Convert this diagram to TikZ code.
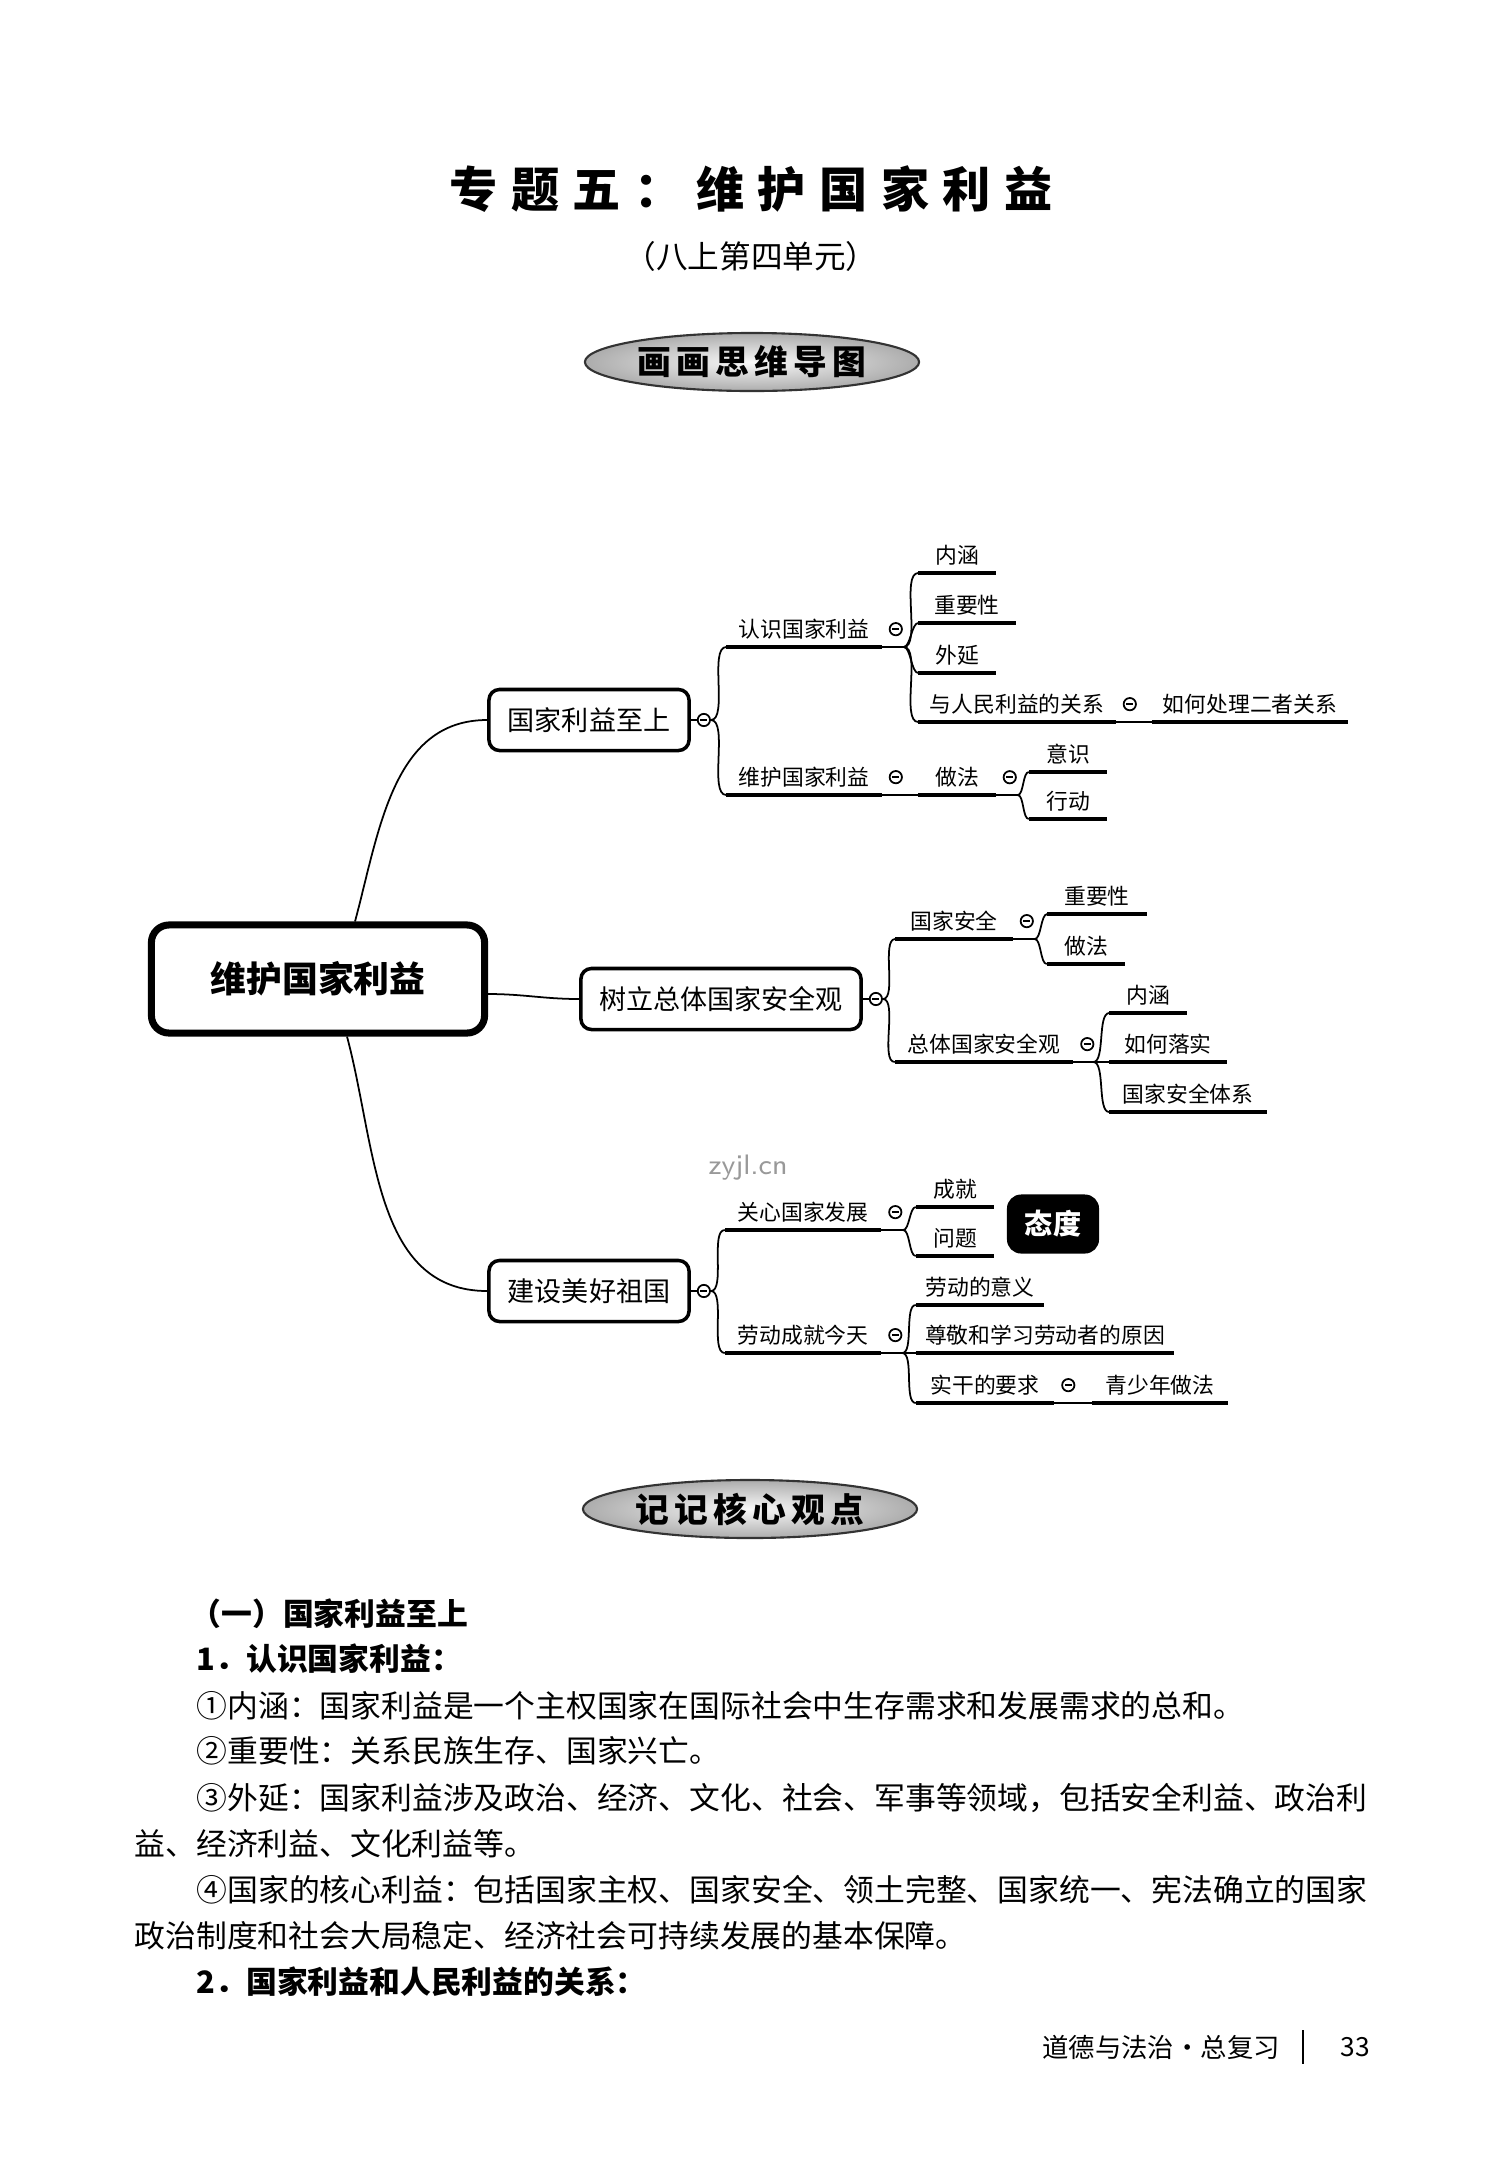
\documentclass[tikz,border=0pt]{standalone}
\usepackage{fontspec}
\setmainfont{Noto Sans CJK SC}
\newfontfamily\titlefont[LetterSpace=28]{Noto Sans CJK SC}
\newfontfamily\bannerfont[LetterSpace=16]{Noto Sans CJK SC}
\usetikzlibrary{shapes.geometric, positioning, calc}

\begin{document}
\begin{tikzpicture}[x=0.01cm, y=-0.01cm,
    root/.style={rectangle, draw, line width=2pt, rounded corners=5pt, minimum width=3.33cm, minimum height=1.08cm, font=\fontsize{10.2}{12}\selectfont\bfseries},
    topic/.style={rectangle, draw, line width=1pt, rounded corners=3pt, minimum height=.61cm, font=\fontsize{7.7}{9}\selectfont},
    leaf/.style={anchor=south, inner xsep=0pt, inner ysep=2pt, font=\fontsize{6.2}{7}\selectfont},
    uline/.style={line width=1.2pt},
    conn/.style={line width=.5pt},
    branch/.style={conn, out=0, in=180, looseness=.6},
    fold/.style={circle, draw, line width=.5pt, inner sep=0pt, minimum size=3.5pt,
        path picture={\draw[line width=.5pt] ([xshift=-1pt]path picture bounding box.center) -- ([xshift=1pt]path picture bounding box.center);}},
    banner/.style={ellipse, draw=black!80, line width=.6pt, inner color=gray!5, outer color=gray!65, inner sep=0pt, minimum width=3.34cm, minimum height=.58cm, font=\bannerfont\fontsize{9.6}{12}\selectfont\bfseries},
    body/.style={anchor=west, inner sep=0pt, font=\fontsize{8.76}{10}\selectfont},
    bodyhead/.style={body, font=\fontsize{8.76}{10}\selectfont\bfseries}
]
\fill[white] (0,0) rectangle (1500,2160);
\useasboundingbox (0,0) rectangle (1500,2160);

% Title
\node[font=\titlefont\fontsize{13.7}{16}\selectfont\bfseries] (title) at (751,189) {专题五：维护国家利益};
\node[font=\fontsize{9}{11}\selectfont] (subtitle) at (751,256) {（八上第四单元）};
\node[banner] (map) at (752,362) {画画思维导图};

% Main topics
\node[root] (root) at (318,979) {维护国家利益};
\node[topic, minimum width=2cm] (gjly) at (589,720) {国家利益至上};
\node[topic, minimum width=2.8cm] (aqg) at (721,999) {树立总体国家安全观};
\node[topic, minimum width=2cm] (zg) at (589,1291) {建设美好祖国};
\foreach \t in {gjly,aqg,zg} \node[fold, right=.06cm of \t] (\t-f) {};

% Branch 1
\node[leaf, minimum width=1.54cm] (rs) at (804,647) {认识国家利益};
\node[leaf, minimum width=1.54cm] (wh) at (804,795) {维护国家利益};
\node[leaf, minimum width=.76cm] (nh1) at (957,573) {内涵};
\node[leaf, minimum width=.96cm] (zy1) at (967,623) {重要性};
\node[leaf, minimum width=.76cm] (wy) at (957,673) {外延};
\node[leaf, minimum width=1.96cm] (gx) at (1017,722) {与人民利益的关系};
\node[leaf, minimum width=1.95cm] (cl) at (1250,722) {如何处理二者关系};
\node[leaf, minimum width=.76cm] (zf1) at (957,795) {做法};
\node[leaf, minimum width=.77cm] (ys) at (1068,772) {意识};
\node[leaf, minimum width=.77cm] (xd) at (1068,819) {行动};

% Branch 2
\node[leaf, minimum width=1.16cm] (aq) at (954,939) {国家安全};
\node[leaf, minimum width=1.77cm] (zt) at (984,1062) {总体国家安全观};
\node[leaf, minimum width=.98cm] (zy2) at (1097,914) {重要性};
\node[leaf, minimum width=.77cm] (zf2) at (1086,964) {做法};
\node[leaf, minimum width=.76cm] (nh2) at (1148,1013) {内涵};
\node[leaf, minimum width=1.16cm] (ls) at (1168,1062) {如何落实};
\node[leaf, minimum width=1.56cm] (tx) at (1188,1112) {国家安全体系};

% Branch 3
\node[leaf, minimum width=1.55cm] (gxfz) at (803,1230) {关心国家发展};
\node[leaf, minimum width=1.55cm] (ld) at (803,1353) {劳动成就今天};
\node[leaf, minimum width=.77cm] (cj) at (955,1207) {成就};
\node[leaf, minimum width=.77cm] (wt) at (955,1256) {问题};
\node[leaf, minimum width=1.27cm] (yy) at (980,1305) {劳动的意义};
\node[leaf, minimum width=2.57cm] (zj) at (1045,1353) {尊敬和学习劳动者的原因};
\node[leaf, minimum width=1.37cm] (sg) at (985,1403) {实干的要求};
\node[leaf, minimum width=1.35cm] (qs) at (1160,1403) {青少年做法};
\node[rectangle, fill=black, rounded corners=4pt, minimum width=.92cm, minimum height=.59cm, text=white, font=\fontsize{8}{9}\selectfont\bfseries] (td) at (1053,1224) {态度};
\node[text=black!40, font=\sffamily\fontsize{8}{9}\selectfont] (wm) at (748,1168) {zyjl.cn};

\foreach \n in {rs,gx,wh,zf1,aq,zt,gxfz,ld,sg} \node[fold, right=.07cm of \n] (\n-f) {};
\foreach \n in {rs,wh,nh1,zy1,wy,gx,cl,zf1,ys,xd,aq,zt,zy2,zf2,nh2,ls,tx,gxfz,ld,cj,wt,yy,zj,sg,qs}
    \draw[uline] (\n.south west) -- (\n.south east);

% Connectors
\draw[conn] ([xshift=.37cm]root.north) to[out=75,in=180] (gjly.west);
\draw[conn] ([yshift=-.15cm]root.east) to[out=0,in=180] (aqg.west);
\draw[conn] ([xshift=.29cm]root.south) to[out=-75,in=180] (zg.west);
\foreach \t in {gjly,aqg,zg} \draw[conn] (\t.east) -- (\t-f.west);
\foreach \k in {rs,wh} \draw[branch] (gjly-f.east) to (\k.south west);
\foreach \k in {aq,zt} \draw[branch] (aqg-f.east) to (\k.south west);
\foreach \k in {gxfz,ld} \draw[branch] (zg-f.east) to (\k.south west);

\draw[conn] (rs.south east) -- ++(22,0) coordinate (rs-j);
\foreach \k in {nh1,zy1,wy,gx} \draw[branch] (rs-j) to (\k.south west);
\draw[conn] (gx.south east) -- (cl.south west);
\draw[conn] (wh.south east) -- (zf1.south west);
\draw[conn] (zf1.south east) -- ++(22,0) coordinate (zf1-j);
\foreach \k in {ys,xd} \draw[branch] (zf1-j) to (\k.south west);

\draw[conn] (aq.south east) -- ++(22,0) coordinate (aq-j);
\foreach \k in {zy2,zf2} \draw[branch] (aq-j) to (\k.south west);
\draw[conn] (zt.south east) -- ++(20,0) coordinate (zt-j);
\foreach \k in {nh2,ls,tx} \draw[branch] (zt-j) to (\k.south west);

\draw[conn] (gxfz.south east) -- ++(22,0) coordinate (gxfz-j);
\foreach \k in {cj,wt} \draw[branch] (gxfz-j) to (\k.south west);
\draw[conn] (ld.south east) -- ++(21,0) coordinate (ld-j);
\foreach \k in {yy,zj,sg} \draw[branch] (ld-j) to (\k.south west);
\draw[conn] (sg.south east) -- (qs.south west);

% Core points
\node[banner] (core) at (750,1509) {记记核心观点};
\node[bodyhead] (h1) at (190,1614) {（一）国家利益至上};
\node[bodyhead] (h2) at (196,1659) {1．认识国家利益：};
\node[body] (p1) at (196,1706) {①内涵：国家利益是一个主权国家在国际社会中生存需求和发展需求的总和。};
\node[body] (p2) at (196,1751) {②重要性：关系民族生存、国家兴亡。};
\node[body] (p3) at (196,1798) {③外延：国家利益涉及政治、经济、文化、社会、军事等领域，包括安全利益、政治利};
\node[body] (p3b) at (134,1844) {益、经济利益、文化利益等。};
\node[body] (p4) at (196,1890) {④国家的核心利益：包括国家主权、国家安全、领土完整、国家统一、宪法确立的国家};
\node[body] (p4b) at (134,1936) {政治制度和社会大局稳定、经济社会可持续发展的基本保障。};
\node[bodyhead] (h3) at (196,1982) {2．国家利益和人民利益的关系：};

% Footer
\node[anchor=west, font=\fontsize{7.5}{9}\selectfont] (foot) at (1030,2047) {道德与法治·总复习};
\node[font=\fontsize{7.5}{9}\selectfont] (page) at (1355,2047) {33};
\draw[line width=.5pt] (1303,2030) -- (1303,2064);
\end{tikzpicture}
\end{document}
